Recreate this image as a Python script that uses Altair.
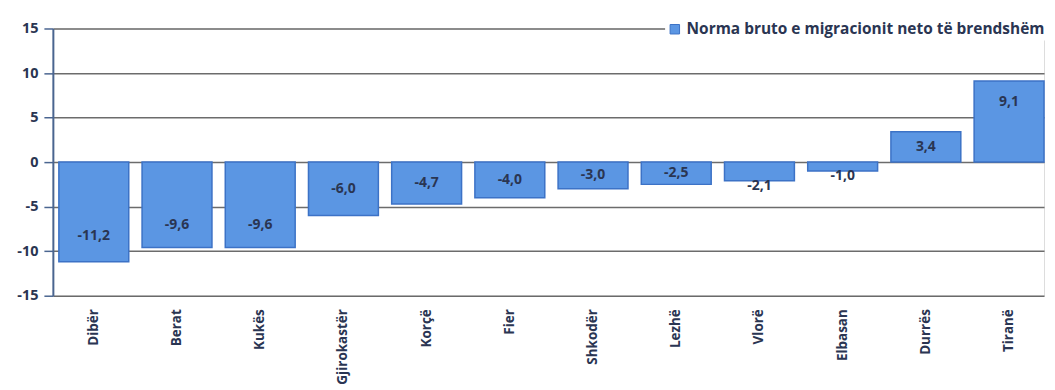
import altair as alt
import pandas as pd

categories = ["Dibër", "Berat", "Kukës", "Gjirokastër", "Korçë", "Fier",
              "Shkodër", "Lezhë", "Vlorë", "Elbasan", "Durrës", "Tiranë"]
values = [-11.2, -9.6, -9.6, -6.0, -4.7, -4.0, -3.0, -2.5, -2.1, -1.0, 3.4, 9.1]
series_name = "Norma bruto e migracionit neto të brendshëm"
y_ticks = [-15, -10, -5, 0, 5, 10, 15]

df = pd.DataFrame({"cat": categories, "value": values, "series": series_name})

FONT = "Open Sans"
DARK = "#2a3552"

x = alt.X("cat:N", sort=categories, title=None,
          scale=alt.Scale(paddingInner=0.16, paddingOuter=0.036, align=1),
          axis=alt.Axis(labelAngle=-90, labelFont=FONT, labelFontSize=13.5,
                        labelFontWeight="bold", labelColor=DARK, labelPadding=13,
                        ticks=False, domain=False))

bars = alt.Chart(df).mark_bar(stroke="#3c72c6", strokeWidth=1.5).encode(
    x=x,
    y=alt.Y("value:Q", title=None,
            scale=alt.Scale(domain=[-15, 15], nice=False),
            axis=alt.Axis(values=y_ticks, labelFont=FONT, labelFontSize=14.5,
                          labelFontWeight="bold", labelColor=DARK,
                          labelExpr="replace(datum.label, '−', '-')",
                          tickSize=9, tickColor="#4a6590", tickWidth=1.5,
                          domainColor="#4a6590", domainWidth=2,
                          labelPadding=6,
                          gridColor="#5c5c5c", gridWidth=1.5, gridOpacity=0.9)),
    color=alt.Color("series:N", title=None,
                    scale=alt.Scale(range=["#5b96e3"]),
                    legend=alt.Legend(orient="none", legendX=614, legendY=-9,
                                      fillColor="white", padding=2,
                                      symbolType="square", symbolSize=90,
                                      symbolStrokeColor="#3c72c6", symbolStrokeWidth=1,
                                      labelFont=FONT, labelFontSize=15.5,
                                      labelFontWeight="bold", labelColor=DARK,
                                      labelLimit=500)),
)

labels = alt.Chart(df).transform_calculate(
    lbl="replace(replace(format(datum.value, '.1f'), '.', ','), '−', '-')",
    ypos="abs(datum.value) >= 9 ? datum.value * 0.74 : (abs(datum.value) >= 2.5 ? datum.value / 2 : datum.value - 0.55)",
).mark_text(font=FONT, fontSize=14, fontWeight="bold", color=DARK,
            baseline="middle").encode(
    x=alt.X("cat:N", sort=categories),
    y=alt.Y("ypos:Q"),
    text="lbl:N",
)

chart = (bars + labels).properties(
    width=994, height=268,
    padding={"left": 8, "top": 11, "right": 0, "bottom": 5},
).configure_view(stroke=None).configure(background="white")

chart.save("out.html", embed_options={"renderer": "svg", "actions": False})
